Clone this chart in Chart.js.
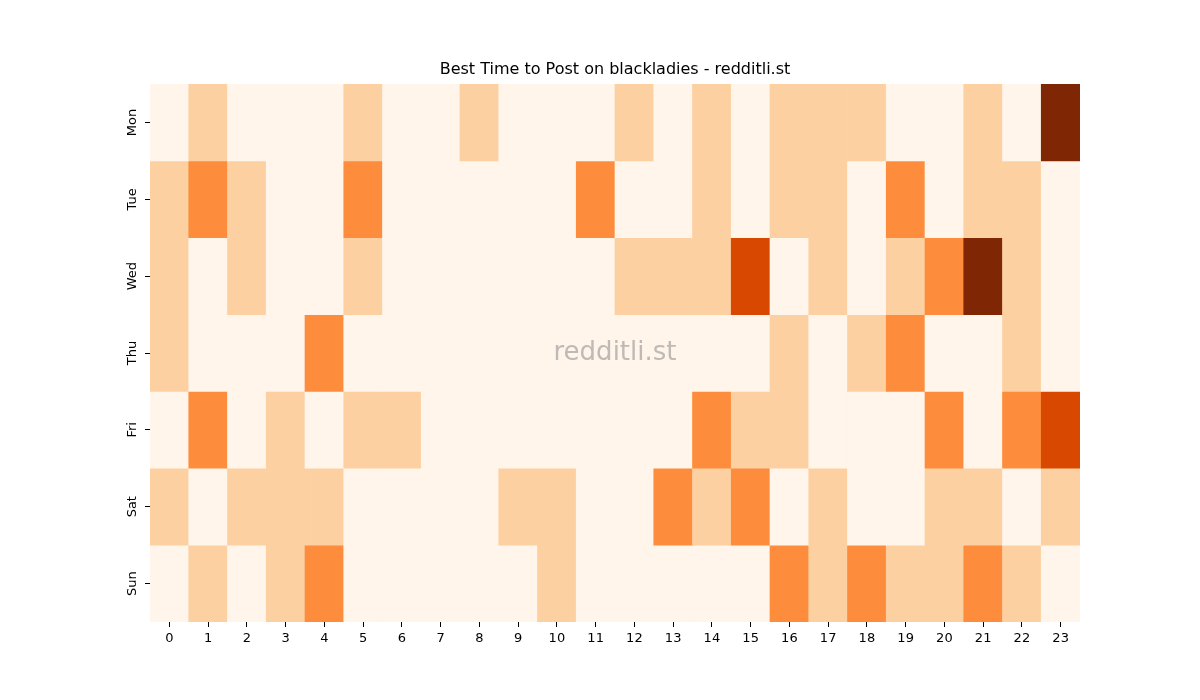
<!DOCTYPE html>
<html>
<head>
<meta charset="utf-8">
<script src="https://cdn.jsdelivr.net/npm/chart.js@4"></script>
<style>
  body { margin: 0; background: #fff; }
</style>
</head>
<body>
<canvas id="heatmap" width="1200" height="700"></canvas>
<script>
const hours = ['0', '1', '2', '3', '4', '5', '6', '7', '8', '9', '10', '11',
               '12', '13', '14', '15', '16', '17', '18', '19', '20', '21', '22', '23'];
const days = ['Mon', 'Tue', 'Wed', 'Thu', 'Fri', 'Sat', 'Sun'];

// post scores per hour, one row per day
const mon = [0, 1, 0, 0, 0, 1, 0, 0, 1, 0, 0, 0, 1, 0, 1, 0, 1, 1, 1, 0, 0, 1, 0, 4];
const tue = [1, 2, 1, 0, 0, 2, 0, 0, 0, 0, 0, 2, 0, 0, 1, 0, 1, 1, 0, 2, 0, 1, 1, 0];
const wed = [1, 0, 1, 0, 0, 1, 0, 0, 0, 0, 0, 0, 1, 1, 1, 3, 0, 1, 0, 1, 2, 4, 1, 0];
const thu = [1, 0, 0, 0, 2, 0, 0, 0, 0, 0, 0, 0, 0, 0, 0, 0, 1, 0, 1, 2, 0, 0, 1, 0];
const fri = [0, 2, 0, 1, 0, 1, 1, 0, 0, 0, 0, 0, 0, 0, 2, 1, 1, 0, 0, 0, 2, 0, 2, 3];
const sat = [1, 0, 1, 1, 1, 0, 0, 0, 0, 1, 1, 0, 0, 2, 1, 2, 0, 1, 0, 0, 1, 1, 0, 1];
const sun = [0, 1, 0, 1, 2, 0, 0, 0, 0, 0, 1, 0, 0, 0, 0, 0, 2, 1, 2, 1, 1, 2, 1, 0];

const rows = [mon, tue, wed, thu, fri, sat, sun];
const oranges = ['#fff5eb', '#fdd0a2', '#fd8d3c', '#d94801', '#7f2704'];

const datasets = rows.map((row, i) => ({
    label: days[i],
    data: row.map(() => 1),
    backgroundColor: row.map(v => oranges[v]),
    borderWidth: 0,
    barPercentage: 1,
    categoryPercentage: 1
}));

// title, rotated day labels and watermark, placed from the chart area / y scale
const extras = {
    id: 'extras',
    afterDatasetsDraw(chart) {
        const { ctx, chartArea } = chart;
        const yScale = chart.scales.y;
        const cx = (chartArea.left + chartArea.right) / 2;
        ctx.save();
        ctx.textAlign = 'center';
        ctx.textBaseline = 'middle';

        ctx.font = '16px "DejaVu Sans"';
        ctx.fillStyle = '#000';
        ctx.fillText('Best Time to Post on blackladies - redditli.st', cx, 70);

        ctx.font = '13px "DejaVu Sans"';
        days.forEach((d, i) => {
            const y = yScale.getPixelForValue(i + 0.5);
            ctx.save();
            ctx.translate(chartArea.left - 17, y);
            ctx.rotate(-Math.PI / 2);
            ctx.fillText(d, 0, 0);
            ctx.restore();
        });

        ctx.font = '26px "DejaVu Sans"';
        ctx.fillStyle = 'rgba(128,128,128,0.5)';
        ctx.fillText('redditli.st', cx, (chartArea.top + chartArea.bottom) / 2);
        ctx.restore();
    }
};

const el = document.getElementById('heatmap');

new Chart(el, {
    type: 'bar',
    data: {
        labels: hours,
        datasets: datasets
    },
    plugins: [extras],
    options: {
        responsive: false,
        animation: false,
        layout: {
            padding: { top: 84, left: 100, right: 120, bottom: 0 }
        },
        plugins: {
            legend: { display: false },
            tooltip: { enabled: false },
            title: { display: false }
        },
        scales: {
            x: {
                stacked: true,
                afterFit(scale) { scale.height = 78; },
                grid: {
                    offset: false,
                    drawOnChartArea: false,
                    drawTicks: true,
                    tickLength: 5,
                    color: '#000'
                },
                border: { display: false },
                ticks: {
                    color: '#000',
                    padding: 4,
                    maxRotation: 0,
                    autoSkip: false,
                    font: { family: 'DejaVu Sans', size: 13 }
                }
            },
            y: {
                stacked: true,
                reverse: true,
                min: 0,
                max: 7,
                afterFit(scale) { scale.width = 50; },
                afterBuildTicks(scale) {
                    scale.ticks = days.map((d, i) => ({ value: i + 0.5 }));
                },
                grid: {
                    drawOnChartArea: false,
                    drawTicks: true,
                    tickLength: 5,
                    color: '#000'
                },
                border: { display: false },
                ticks: { display: false }
            }
        }
    }
});
</script>
</body>
</html>
